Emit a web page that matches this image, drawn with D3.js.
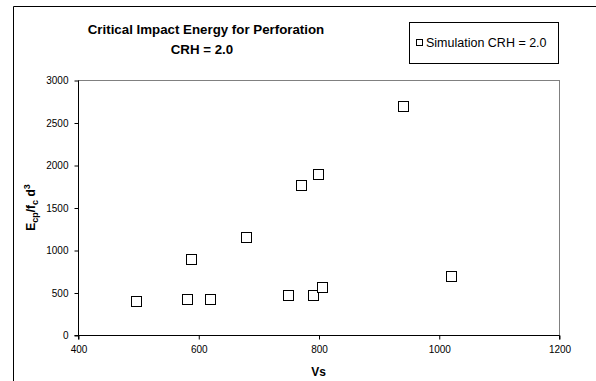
<!DOCTYPE html>
<html>
<head>
<meta charset="utf-8">
<script src="https://cdn.jsdelivr.net/npm/d3@7"></script>
<style>
  html, body { margin: 0; background: #fff; overflow: hidden; }
  svg { display: block; overflow: hidden; font-family: Arial, "Liberation Sans", sans-serif; }
</style>
</head>
<body>
<script>
// values
let vs = [497, 582, 588, 619, 679, 749, 771, 791, 799, 806, 941, 1020];
let energy = [403, 427, 898, 427, 1157, 474, 1768, 474, 1894, 565, 2691, 694];
let xTicks = [400, 600, 800, 1000, 1200];
let yTicks = [0, 500, 1000, 1500, 2000, 2500, 3000];
let seriesName = "Simulation CRH = 2.0";

let data = vs.map(function(v, i) { return {vs: v, e: energy[i]}; });

let W = 596, H = 381;
let plot = {left: 78, right: 559, top: 80, bottom: 335};

let svg = d3.select("body").append("svg")
	.attr("width", W)
	.attr("height", H);

// outer chart frame (runs off the right/bottom of the picture)
svg.append("path")
	.attr("d", "M13.5," + H + "V6.5H" + W)
	.attr("fill", "none")
	.attr("stroke", "#000")
	.attr("stroke-width", 1);

let xScale = d3.scaleLinear().domain([400, 1200]).range([plot.left, plot.right]);
let yScale = d3.scaleLinear().domain([0, 3000]).range([plot.bottom, plot.top]);

// plot area border
svg.append("rect")
	.attr("x", plot.left + 0.5).attr("y", plot.top + 0.5)
	.attr("width", plot.right - plot.left).attr("height", plot.bottom - plot.top)
	.attr("fill", "none")
	.attr("stroke", "#808080");

// axes
let xAxis = d3.axisBottom(xScale).tickValues(xTicks).tickSize(4).tickPadding(6).tickFormat(d3.format("d"));
let yAxis = d3.axisLeft(yScale).tickValues(yTicks).tickSize(4).tickPadding(6).tickFormat(d3.format("d"));

let xAxisEl = svg.append("g")
	.attr("transform", "translate(0.5," + (plot.bottom + 0.5) + ")")
	.call(xAxis);
let yAxisEl = svg.append("g")
	.attr("transform", "translate(" + (plot.left + 0.5) + ",0.5)")
	.call(yAxis);

[xAxisEl, yAxisEl].forEach(function(g) {
	g.select(".domain").attr("stroke", "#000");
	g.selectAll(".tick line").attr("stroke", "#000");
	g.selectAll(".tick text")
		.attr("fill", "#000")
		.style("font-size", "10px")
		.style("font-family", "Arial, 'Liberation Sans', sans-serif");
});
yAxisEl.select(".domain").attr("d", "M-4," + plot.bottom + "H0V" + plot.top);
xAxisEl.select(".domain").attr("d", "M" + plot.left + ",4V0H" + plot.right + "V4");

// points
let s = 10;
svg.append("g").selectAll("rect")
	.data(data)
	.join("rect")
	.attr("x", function(d) { return Math.round(xScale(d.vs) - s / 2) + 0.5; })
	.attr("y", function(d) { return Math.round(yScale(d.e) - s / 2) + 0.5; })
	.attr("width", s)
	.attr("height", s)
	.attr("fill", "#fff")
	.attr("stroke", "#000")
	.attr("stroke-width", 1);

// title
let title = svg.append("text")
	.attr("text-anchor", "middle")
	.style("font-size", "13.3px")
	.style("font-weight", "bold");
title.append("tspan").attr("x", 206).attr("y", 34).text("Critical Impact Energy for Perforation");
title.append("tspan").attr("x", 202).attr("y", 54).text("CRH = 2.0");

// x label
svg.append("text")
	.attr("x", (plot.left + plot.right) / 2)
	.attr("y", 376)
	.attr("text-anchor", "middle")
	.style("font-size", "12px")
	.style("font-weight", "bold")
	.text("Vs");

// y label
let yl = svg.append("text")
	.attr("transform", "translate(35," + ((plot.top + plot.bottom) / 2) + ") rotate(-90)")
	.attr("text-anchor", "middle")
	.style("font-size", "12px")
	.style("font-weight", "bold");
yl.append("tspan").text("E");
yl.append("tspan").attr("dy", 3).style("font-size", "9px").text("cp");
yl.append("tspan").attr("dy", -3).text("/f");
yl.append("tspan").attr("dy", 3).style("font-size", "9px").text("c");
yl.append("tspan").attr("dy", -3).text(" d");
yl.append("tspan").attr("dy", -5).style("font-size", "9px").text("3");

// legend
let lg = svg.append("g");
lg.append("rect")
	.attr("x", 409.5).attr("y", 22.5)
	.attr("width", 149).attr("height", 41)
	.attr("fill", "#fff")
	.attr("stroke", "#000");
lg.append("rect")
	.attr("x", 416.5).attr("y", 39.5)
	.attr("width", 6).attr("height", 6)
	.attr("fill", "#fff")
	.attr("stroke", "#000");
lg.append("text")
	.attr("x", 426)
	.attr("y", 47)
	.style("font-size", "12.5px")
	.text(seriesName);
</script>
</body>
</html>
